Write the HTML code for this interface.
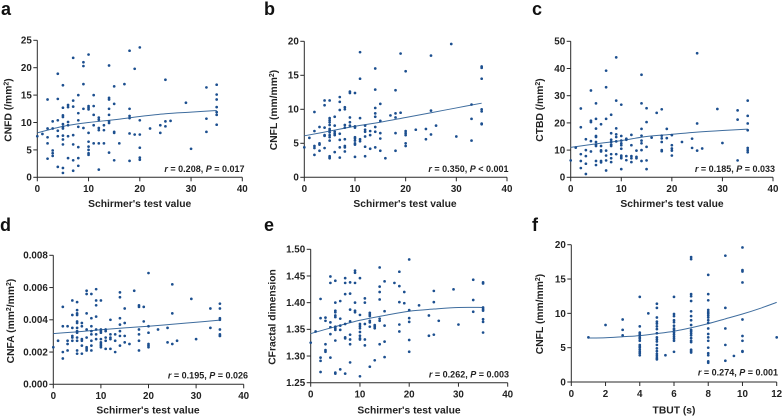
<!DOCTYPE html>
<html lang="en">
<head>
<meta charset="utf-8">
<title>Correlation scatter plots</title>
<style>
html,body{margin:0;padding:0;background:#fff;width:784px;height:417px;overflow:hidden}
svg{display:block}
text{font-family:"Liberation Sans",Arial,sans-serif;fill:#222;font-weight:700}
.letter{font-size:18px;fill:#111}
.xt{font-size:10.3px}
.yt{font-size:10.3px}
.tick{font-size:9.8px}
.note{font-size:9px;text-anchor:end}
.sup{font-size:7px}
</style>
</head>
<body>
<svg id="figure" width="784" height="417" viewBox="0 0 784 417" xmlns="http://www.w3.org/2000/svg">
  <rect width="784" height="417" fill="#fff"/>

  <g id="panel-a">
    <text class="letter" x="1" y="15">a</text>
    <text class="yt" transform="translate(11.5,110) rotate(-90)" text-anchor="middle">CNFD (/mm<tspan class="sup" dy="-3">2</tspan><tspan dy="3">)</tspan></text>
    <text class="xt" x="139.7" y="207" text-anchor="middle">Schirmer's test value</text>
    <text class="note" x="244.5" y="172"><tspan font-style="italic">r</tspan> = 0.208, <tspan font-style="italic">P</tspan> = 0.017</text>
  </g>
  <g id="panel-b">
    <text class="letter" x="264" y="15">b</text>
    <text class="yt" transform="translate(277,110) rotate(-90)" text-anchor="middle">CNFL (mm/mm<tspan class="sup" dy="-3">2</tspan><tspan dy="3">)</tspan></text>
    <text class="xt" x="405" y="207" text-anchor="middle">Schirmer's test value</text>
    <text class="note" x="508.5" y="172"><tspan font-style="italic">r</tspan> = 0.350, <tspan font-style="italic">P</tspan> &lt; 0.001</text>
  </g>
  <g id="panel-c">
    <text class="letter" x="532" y="15">c</text>
    <text class="yt" transform="translate(543,110) rotate(-90)" text-anchor="middle">CTBD (/mm<tspan class="sup" dy="-3">2</tspan><tspan dy="3">)</tspan></text>
    <text class="xt" x="672" y="207" text-anchor="middle">Schirmer's test value</text>
    <text class="note" x="775" y="172"><tspan font-style="italic">r</tspan> = 0.185, <tspan font-style="italic">P</tspan> = 0.033</text>
  </g>
  <g id="panel-d">
    <text class="letter" x="0" y="231">d</text>
    <text class="yt" transform="translate(14,321) rotate(-90)" text-anchor="middle">CNFA (mm<tspan class="sup" dy="-3">2</tspan><tspan dy="3">/mm</tspan><tspan class="sup" dy="-3">2</tspan><tspan dy="3">)</tspan></text>
    <text class="xt" x="148" y="413.5" text-anchor="middle">Schirmer's test value</text>
    <text class="note" x="248" y="378.5"><tspan font-style="italic">r</tspan> = 0.195, <tspan font-style="italic">P</tspan> = 0.026</text>
  </g>
  <g id="panel-e">
    <text class="letter" x="264" y="231">e</text>
    <text class="yt" transform="translate(275.5,317) rotate(-90)" text-anchor="middle">CFractal dimension</text>
    <text class="xt" x="409" y="413.5" text-anchor="middle">Schirmer's test value</text>
    <text class="note" x="509" y="377.5"><tspan font-style="italic">r</tspan> = 0.262, <tspan font-style="italic">P</tspan> = 0.003</text>
  </g>
  <g id="panel-f">
    <text class="letter" x="532" y="231">f</text>
    <text class="yt" transform="translate(543,314) rotate(-90)" text-anchor="middle">CNFL (mm/mm<tspan class="sup" dy="-3">2</tspan><tspan dy="3">)</tspan></text>
    <text class="xt" x="674" y="413.5" text-anchor="middle">TBUT (s)</text>
    <text class="note" x="778" y="375.7"><tspan font-style="italic">r</tspan> = 0.274, <tspan font-style="italic">P</tspan> = 0.001</text>
  </g>
</svg>
<script>
const xTicksSchirmer = [0, 10, 20, 30, 40];
const xTicksTbut = [0, 2, 4, 6, 8, 10, 12];
const yTicksA = [0, 5, 10, 15, 20, 25];
const yTicksB = [0, 5, 10, 15, 20];
const yTicksC = [0, 10, 20, 30, 40, 50];
const yTicksD = [0, 0.002, 0.004, 0.006, 0.008];
const yTicksE = [1.25, 1.30, 1.35, 1.40, 1.45, 1.50];
const yTicksF = [0, 5, 10, 15, 20];

const pointsA = [[0,7.5],[1,7.9],[2,14.2],[2,8.9],[2,7.3],[2,6.2],[2,3.4],[3,10.2],[3,8.9],[3,4.9],[3,4.4],[3,3.9],[4,18.9],[4,14.3],[4,10.4],[4,8.5],[4,7.5],[4,1.9],[5,16.8],[5,12.7],[5,11.3],[5,11],[5,9.7],[5,9.2],[5,8.9],[5,7.6],[5,6.9],[5,6],[5,1.7],[5,0.8],[6,13.2],[6,12.8],[6,10.1],[6,9.5],[6,7.5],[6,3.5],[7,21.8],[7,14],[7,12.9],[7,7.7],[7,6],[7,3.1],[7,1.2],[8,15],[8,11.7],[8,10.4],[8,9.2],[8,5.5],[8,3.5],[8,2.1],[9,21],[9,20.3],[9,17],[9,12.5],[9,9],[10,22.4],[10,13],[10,12.7],[10,12.4],[10,8.1],[10,6.5],[10,5.6],[10,5],[10,4.4],[10,4.1],[11,15],[11,13],[11,11.4],[11,9.5],[11,6.2],[12,10.9],[12,10.5],[12,9],[12,8.6],[12,6.2],[12,1.4],[13,9.5],[13,8.6],[13,6.2],[14,20.4],[14,14.5],[14,14.2],[14,12.5],[14,11.4],[14,10.2],[14,9.9],[14,4.5],[15,16.6],[15,13.4],[15,8.3],[15,8.1],[15,3.1],[16,6.2],[17,17],[18,23.1],[18,12.5],[18,11.2],[18,10.8],[18,8],[18,3],[19,19.8],[19,7.8],[20,23.7],[20,10.4],[20,7.8],[20,5.4],[20,3.6],[20,3.2],[22,8.9],[24,9.5],[24,8.1],[25,17.8],[25,10.2],[25,9.3],[26,10.3],[29,13.6],[30,5.2],[33,16.4],[33,10.7],[33,8.3],[35,16.9],[35,15.1],[35,14.2],[35,12.8],[35,11.9],[35,11.4],[35,9.6]];
const pointsB = [[0,4.4],[1,5.8],[2,9.6],[2,6.8],[2,4.6],[2,4.3],[2,3.3],[3,7.4],[3,5],[3,4.8],[3,3.9],[4,11.3],[4,10.6],[4,7.3],[4,6.2],[4,6.1],[4,4.3],[5,11.3],[5,8.7],[5,8.4],[5,8.1],[5,7.7],[5,7.1],[5,6.9],[5,6.6],[5,6.2],[5,5.9],[5,5.4],[5,3.1],[5,2.9],[5,2.8],[6,8.9],[6,7.6],[6,6.7],[6,6.4],[6,6.2],[6,3.7],[7,11.8],[7,11.1],[7,9.9],[7,6.4],[7,5.5],[7,4.4],[7,2.9],[8,10.3],[8,10],[8,7.7],[8,7.3],[8,5.6],[8,4.6],[8,4.4],[8,3.8],[9,12.6],[9,12.4],[9,8.8],[9,8.1],[9,7.6],[10,12.4],[10,7.5],[10,7.3],[10,5.9],[10,5.7],[10,5.4],[10,5],[10,4.8],[10,3],[11,18.4],[11,14.5],[11,8.7],[11,5.6],[11,5.3],[12,7.6],[12,7],[12,6.7],[12,6],[12,4.5],[12,3.1],[13,6.8],[13,6.2],[13,4.2],[14,16],[14,12.9],[14,10.2],[14,9.4],[14,8.9],[14,7.4],[14,6.7],[14,4.4],[15,10.8],[15,8.3],[15,6.5],[15,5.7],[15,3.9],[16,2.8],[17,9.1],[18,12.8],[18,9.4],[18,8.8],[18,6.5],[18,3.9],[19,18.2],[19,9.5],[20,15.6],[20,6.8],[20,6.5],[20,6.2],[20,5],[20,4.6],[22,7],[24,7.1],[24,5.6],[25,17.9],[25,9.8],[25,6.3],[26,7.6],[29,19.6],[30,6],[33,10.7],[33,8.6],[33,5.4],[35,16.3],[35,16.1],[35,14.5],[35,10],[35,9.7],[35,7.9],[35,7.8]];
const pointsC = [[0,6.2],[1,10.9],[2,25.3],[2,18.4],[2,8.5],[2,6],[2,3.4],[3,14],[3,10],[3,7.8],[3,5],[3,1.2],[4,31.9],[4,20.8],[4,20.3],[4,13.3],[4,9.5],[5,27.2],[5,21.5],[5,17.9],[5,15.2],[5,14.8],[5,13],[5,12],[5,11.5],[5,6],[5,4.5],[6,19.5],[6,11.5],[6,9.9],[6,9.5],[6,6],[6,5.5],[7,39.2],[7,33.1],[7,21.5],[7,9.8],[7,8],[7,6.2],[7,2.5],[8,23],[8,16.2],[8,13.8],[8,13],[8,12],[8,11.5],[8,8.5],[8,7],[8,5.6],[9,44.1],[9,28.2],[9,18],[9,15.8],[9,14.8],[9,13.2],[9,8.5],[10,26.7],[10,15.2],[10,13.5],[10,12.5],[10,11.8],[10,10.5],[10,8],[10,7.5],[10,7],[10,3],[11,14.2],[11,13.8],[11,7.8],[11,6.3],[12,15.6],[12,11.8],[12,7.8],[12,7],[12,5.6],[13,9.8],[13,7.5],[13,7],[14,37.7],[14,27.2],[14,17.8],[14,15.3],[14,13.5],[14,12.5],[14,10],[14,6],[15,25.4],[15,20.3],[15,11.2],[15,6.2],[15,3],[16,14.6],[17,23.7],[18,25],[18,15.3],[18,14.3],[18,13],[18,10],[18,9.6],[19,17.8],[19,14.4],[20,15.5],[20,11.8],[20,10.6],[20,9.8],[20,8],[22,13],[24,14.2],[24,10.8],[25,45.6],[25,19.8],[25,9.8],[26,10.6],[29,25.1],[30,12.6],[33,24.6],[33,21.2],[33,6.2],[35,28.2],[35,22.6],[35,19.8],[35,17.3],[35,10.8],[35,10],[35,9.2]];
const pointsD = [[0,0.0023],[1,0.0027],[2,0.0048],[2,0.0036],[2,0.002],[2,0.0016],[3,0.0036],[3,0.0027],[3,0.0025],[3,0.0021],[4,0.0052],[4,0.0043],[4,0.0035],[4,0.003],[4,0.0029],[4,0.0027],[5,0.0051],[5,0.0046],[5,0.0044],[5,0.0043],[5,0.0039],[5,0.0038],[5,0.0035],[5,0.0033],[5,0.0032],[5,0.0029],[5,0.0027],[5,0.0021],[5,0.0019],[6,0.0038],[6,0.0036],[6,0.0028],[6,0.0027],[6,0.0024],[6,0.0019],[7,0.0058],[7,0.0056],[7,0.0044],[7,0.0034],[7,0.0029],[7,0.0023],[7,0.0022],[7,0.0021],[8,0.0056],[8,0.0041],[8,0.0036],[8,0.0033],[8,0.0031],[8,0.0027],[8,0.0024],[8,0.0021],[9,0.0059],[9,0.0052],[9,0.0049],[9,0.0042],[9,0.0034],[9,0.0031],[9,0.0028],[10,0.0052],[10,0.0034],[10,0.0033],[10,0.0032],[10,0.0028],[10,0.0026],[10,0.0025],[10,0.0024],[10,0.0023],[11,0.0034],[11,0.0033],[11,0.0029],[11,0.0027],[11,0.0022],[12,0.004],[12,0.0031],[12,0.0029],[12,0.0028],[12,0.0022],[13,0.0031],[13,0.0027],[13,0.002],[14,0.0057],[14,0.0054],[14,0.0041],[14,0.0037],[14,0.0033],[14,0.003],[14,0.0024],[15,0.0047],[15,0.0038],[15,0.003],[15,0.0026],[16,0.0025],[17,0.0058],[18,0.0049],[18,0.0048],[18,0.0034],[18,0.0031],[18,0.0027],[18,0.0021],[19,0.0048],[19,0.0039],[20,0.0069],[20,0.0036],[20,0.0032],[20,0.0025],[20,0.0024],[20,0.0023],[22,0.0034],[24,0.0035],[24,0.0026],[25,0.0062],[25,0.0044],[25,0.0025],[26,0.0027],[29,0.0053],[30,0.0028],[33,0.0047],[33,0.0035],[35,0.005],[35,0.0047],[35,0.0041],[35,0.004],[35,0.0034],[35,0.0031],[35,0.003],[35,0.003]];
const pointsE = [[0,1.325],[1,1.346],[2,1.407],[2,1.371],[2,1.297],[2,1.291],[2,1.27],[3,1.372],[3,1.366],[3,1.322],[3,1.311],[3,1.308],[4,1.449],[4,1.437],[4,1.363],[4,1.354],[4,1.341],[4,1.297],[5,1.441],[5,1.4],[5,1.385],[5,1.382],[5,1.376],[5,1.373],[5,1.355],[5,1.352],[5,1.349],[5,1.329],[5,1.269],[5,1.267],[6,1.403],[6,1.37],[6,1.357],[6,1.349],[6,1.275],[7,1.446],[7,1.437],[7,1.416],[7,1.36],[7,1.335],[7,1.333],[7,1.267],[8,1.438],[8,1.417],[8,1.387],[8,1.365],[8,1.34],[8,1.331],[8,1.322],[8,1.288],[9,1.46],[9,1.456],[9,1.437],[9,1.4],[9,1.385],[9,1.382],[10,1.446],[10,1.377],[10,1.36],[10,1.356],[10,1.352],[10,1.345],[10,1.338],[10,1.333],[10,1.331],[10,1.262],[11,1.408],[11,1.4],[11,1.36],[11,1.331],[11,1.32],[12,1.381],[12,1.378],[12,1.375],[12,1.366],[12,1.363],[12,1.355],[12,1.28],[13,1.358],[13,1.355],[13,1.352],[13,1.292],[14,1.466],[14,1.43],[14,1.42],[14,1.406],[14,1.37],[14,1.366],[14,1.322],[15,1.44],[15,1.384],[15,1.357],[15,1.327],[15,1.298],[17,1.437],[18,1.458],[18,1.431],[18,1.401],[18,1.359],[18,1.346],[19,1.42],[19,1.399],[20,1.481],[20,1.386],[20,1.371],[20,1.364],[20,1.33],[20,1.308],[22,1.395],[24,1.376],[24,1.338],[25,1.422],[25,1.401],[25,1.34],[26,1.366],[29,1.425],[30,1.359],[33,1.443],[33,1.405],[33,1.383],[35,1.438],[35,1.436],[35,1.391],[35,1.388],[35,1.385],[35,1.369],[35,1.364],[35,1.344]];
const pointsF = [[1,6.5],[2,8.3],[3,9.1],[3,7.6],[3,6.8],[4,12.4],[4,8.1],[4,7.2],[4,7],[4,6.8],[4,6.5],[4,6.3],[4,6],[4,5.4],[4,5.2],[4,5],[4,4.7],[4,4.4],[4,4.2],[4,3.9],[4.5,10],[5,11.4],[5,10.8],[5,9.4],[5,8.8],[5,8.5],[5,8.1],[5,7.7],[5,7.1],[5,6.5],[5,6.2],[5,5.9],[5,5.4],[5,4.9],[5,4.5],[5,4.1],[5,3.8],[5,3.5],[5,3.3],[5.5,3.9],[6,12.4],[6,9.9],[6,9.6],[6,9],[6,8.7],[6,8.2],[6,7.8],[6,7.6],[6,7.2],[6,6.9],[6,6.6],[6,6.3],[6,6],[6,4.4],[7,18.2],[7,17.9],[7,12.8],[7,12.5],[7,11.8],[7,10.3],[7,9.6],[7,9],[7,8.3],[7,7.6],[7,7.4],[7,7.1],[7,6.8],[7,6.4],[7,6],[7,5.8],[7,4.7],[7,4.5],[7,4.3],[8,15.6],[8,12.8],[8,11.9],[8,10.5],[8,10.2],[8,10],[8,9.7],[8,9.4],[8,9],[8,8.6],[8,7.8],[8,7],[8,6.5],[8,6],[8,5],[8,4.2],[8,3.9],[8,3],[8,2.8],[9,18.4],[9,10.8],[9,7.8],[9,5.4],[9,3.1],[9.5,3.8],[10,19.6],[10,16.3],[10,16.1],[10,14.5],[10,9.1],[10,6.7],[10,6],[10,4.5],[10,4.4],[12,6.5]];

const trendXSchirmer = [0, 5, 10, 15, 20, 25, 30, 35];
const trendXTbut = [1, 2, 3, 4, 5, 6, 7, 8, 9, 10, 11, 12];
const trendA = [8.1, 9.3, 10, 10.5, 11.1, 11.6, 11.9, 12.2];
const trendB = [6.1, 6.8, 7.5, 8.1, 8.8, 9.5, 10.2, 10.9];
const trendC = [11, 12.3, 13.5, 15, 15.8, 16.6, 17.2, 17.7];
const trendD = [0.00315, 0.00325, 0.00338, 0.0035, 0.0036, 0.00372, 0.00385, 0.00398];
const trendE = [1.342, 1.355, 1.367, 1.376, 1.384, 1.388, 1.391, 1.391];
const trendF = [6.4, 6.45, 6.6, 6.75, 7.05, 7.4, 7.9, 8.5, 9.2, 9.9, 10.7, 11.6];

const SVGNS = 'http://www.w3.org/2000/svg';
const POINT_COLOR = '#1c4f8f';
const LINE_COLOR = '#3f6d9e';
const AXIS_COLOR = '#2a2a2a';

function make(parent, tag, attrs) {
  const el = document.createElementNS(SVGNS, tag);
  for (const k in attrs) el.setAttribute(k, attrs[k]);
  parent.appendChild(el);
  return el;
}

function scale(d0, d1, r0, r1) {
  return function (v) { return r0 + (v - d0) / (d1 - d0) * (r1 - r0); };
}

function smoothPath(pts) {
  let d = 'M' + pts[0][0].toFixed(2) + ' ' + pts[0][1].toFixed(2);
  for (let i = 0; i < pts.length - 1; i++) {
    const p0 = pts[Math.max(0, i - 1)], p1 = pts[i], p2 = pts[i + 1], p3 = pts[Math.min(pts.length - 1, i + 2)];
    const c1x = p1[0] + (p2[0] - p0[0]) / 6, c1y = p1[1] + (p2[1] - p0[1]) / 6;
    const c2x = p2[0] - (p3[0] - p1[0]) / 6, c2y = p2[1] - (p3[1] - p1[1]) / 6;
    d += 'C' + [c1x, c1y, c2x, c2y, p2[0], p2[1]].map(function (n) { return n.toFixed(2); }).join(' ');
  }
  return d;
}

function drawPanel(cfg) {
  const host = document.getElementById('panel-' + cfg.id);
  const g = make(host, 'g', {});
  
  
  const xScale = scale(cfg.xTicks[0], cfg.xTicks[cfg.xTicks.length - 1], cfg.left, cfg.right);
  const yScale = scale(cfg.yTicks[0], cfg.yTicks[cfg.yTicks.length - 1], cfg.bottom, cfg.top);

  const xAxis = make(g, 'line', { x1: cfg.left, x2: cfg.right, y1: cfg.bottom, y2: cfg.bottom, stroke: AXIS_COLOR, 'stroke-width': 1 });
  
  
  const yAxis = make(g, 'line', { x1: cfg.left, x2: cfg.left, y1: cfg.top, y2: cfg.bottom, stroke: AXIS_COLOR, 'stroke-width': 1 });
  
  

  cfg.xTicks.forEach(function (v) {
    const x = xScale(v);
    const tick = make(g, 'line', { x1: x, x2: x, y1: cfg.bottom, y2: cfg.bottom + 4, stroke: AXIS_COLOR, 'stroke-width': 1 });
    
    
    const label = make(g, 'text', { x: x, y: cfg.bottom + 14.8, 'text-anchor': 'middle', class: 'tick' });
    
    
    label.textContent = String(v);
  });

  cfg.yTicks.forEach(function (v) {
    const y = yScale(v);
    const tick = make(g, 'line', { x1: cfg.left - 4, x2: cfg.left, y1: y, y2: y, stroke: AXIS_COLOR, 'stroke-width': 1 });
    
    
    const label = make(g, 'text', { x: cfg.left - 5.5, y: y + 3.4, 'text-anchor': 'end', class: 'tick' });
    
    
    label.textContent = cfg.digits ? v.toFixed(cfg.digits) : String(v);
  });

  const trendPts = cfg.trendX.map(function (x, i) { return [xScale(x), yScale(cfg.trend[i])]; });
  const trend = make(g, 'path', { d: smoothPath(trendPts), fill: 'none', stroke: LINE_COLOR, 'stroke-width': 1 });
  
  

  cfg.points.forEach(function (p) {
    const dot = make(g, 'circle', { cx: xScale(p[0]), cy: yScale(p[1]), r: 1.35, fill: POINT_COLOR });
    
    
  });
}

drawPanel({ id: 'a', left: 37.3, right: 242.3, top: 40.3, bottom: 177.3, xTicks: xTicksSchirmer, yTicks: yTicksA, points: pointsA, trendX: trendXSchirmer, trend: trendA });
drawPanel({ id: 'b', left: 304.3, right: 507, top: 41.3, bottom: 177.3, xTicks: xTicksSchirmer, yTicks: yTicksB, points: pointsB, trendX: trendXSchirmer, trend: trendB });
drawPanel({ id: 'c', left: 570.7, right: 773, top: 41.3, bottom: 177.3, xTicks: xTicksSchirmer, yTicks: yTicksC, points: pointsC, trendX: trendXSchirmer, trend: trendC });
drawPanel({ id: 'd', left: 53.3, right: 243.7, top: 255.3, bottom: 384.3, xTicks: xTicksSchirmer, yTicks: yTicksD, points: pointsD, trendX: trendXSchirmer, trend: trendD, digits: 3 });
drawPanel({ id: 'e', left: 310.7, right: 507.7, top: 249.3, bottom: 382.7, xTicks: xTicksSchirmer, yTicks: yTicksE, points: pointsE, trendX: trendXSchirmer, trend: trendE, digits: 2 });
drawPanel({ id: 'f', left: 571.3, right: 776.7, top: 244.7, bottom: 382, xTicks: xTicksTbut, yTicks: yTicksF, points: pointsF, trendX: trendXTbut, trend: trendF });
</script>
</body>
</html>
